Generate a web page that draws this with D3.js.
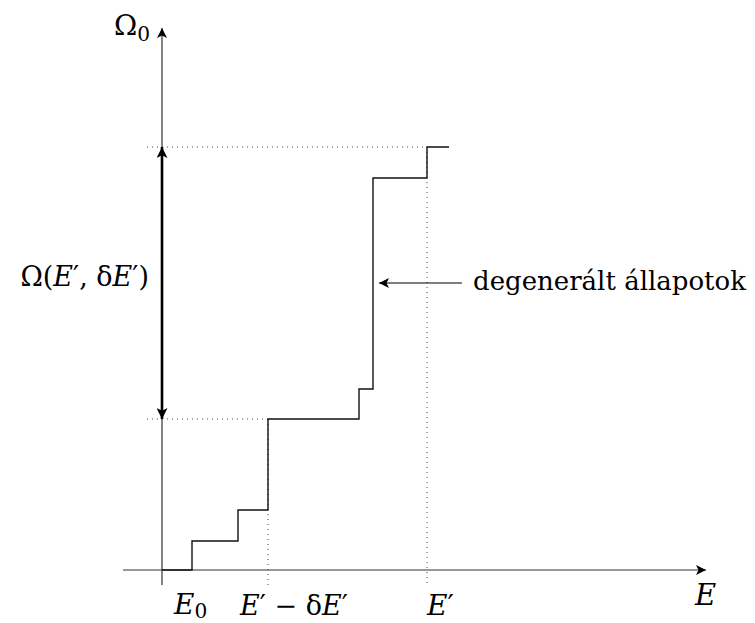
<!DOCTYPE html>
<html>
<head>
<meta charset="utf-8">
<script src="https://cdn.jsdelivr.net/npm/d3@7"></script>
<style>
  body { margin: 0; background: #fff; }
  text { font-family: "DejaVu Serif", serif; fill: #000; }
</style>
</head>
<body>
<svg></svg>
<script>
let width = 755, height = 623;
let svg = d3.select("svg")
    .attr("width", width)
    .attr("height", height);

// step levels: energy where each step starts, and Omega_0 after that step
var energies = [0, 3.0, 7.6, 10.6, 19.7, 21.1, 26.5];
var omegas   = [0, 2.9, 6.0, 15.1, 18.1, 39.2, 42.3];
var stepEnd = 28.7;

// marked points
var eLow = 10.6, eHigh = 26.5;        // E' - dE', E'
var omLow = 15.1, omHigh = 42.3;      // Omega at those energies
var degenE = 19.7, degenOm = 28.7;    // arrow to degenerate states

var x = d3.scaleLinear().domain([0, 10]).range([162, 262]);
var y = d3.scaleLinear().domain([0, 10]).range([570, 470]);

var defs = svg.append("defs");
function marker(id, w, h) {
  defs.append("marker")
    .attr("id", id)
    .attr("viewBox", "0 0 10 10")
    .attr("refX", 10).attr("refY", 5)
    .attr("markerWidth", w).attr("markerHeight", h)
    .attr("markerUnits", "userSpaceOnUse")
    .attr("orient", "auto-start-reverse")
    .append("path")
      .attr("d", "M0,0 L10,5 L0,10 L2.5,5 Z")
      .attr("fill", "#000");
}
marker("arr", 11, 10);
marker("arrBig", 12, 11);

// dotted guides
var dot = svg.append("g")
    .attr("stroke", "#444")
    .attr("stroke-width", 1)
    .attr("stroke-dasharray", "1 4");
dot.append("line")
    .attr("x1", x(-1.5)).attr("x2", x(eHigh))
    .attr("y1", y(omHigh)).attr("y2", y(omHigh));
dot.append("line")
    .attr("x1", x(-1.5)).attr("x2", x(eLow))
    .attr("y1", y(omLow)).attr("y2", y(omLow));
dot.append("line")
    .attr("x1", x(eLow)).attr("x2", x(eLow))
    .attr("y1", y(omLow)).attr("y2", y(-1.5));
dot.append("line")
    .attr("x1", x(eHigh)).attr("x2", x(eHigh))
    .attr("y1", y(omHigh)).attr("y2", y(-1.5));

// axes
svg.append("line")
    .attr("x1", x(-3.9)).attr("x2", x(54.4))
    .attr("y1", y(0)).attr("y2", y(0))
    .attr("stroke", "#333").attr("stroke-width", 1.2)
    .attr("marker-end", "url(#arr)");
svg.append("line")
    .attr("x1", x(0)).attr("x2", x(0))
    .attr("y1", y(-1.5)).attr("y2", y(54.2))
    .attr("stroke", "#333").attr("stroke-width", 1.2)
    .attr("marker-end", "url(#arr)");

// staircase
var pts = energies.map((e, i) => [e, omegas[i]]);
pts.push([stepEnd, omegas[omegas.length - 1]]);
var line = d3.line()
    .x(d => x(d[0]))
    .y(d => y(d[1]))
    .curve(d3.curveStepAfter);
svg.append("path")
    .attr("d", line(pts))
    .attr("fill", "none")
    .attr("stroke", "#111")
    .attr("stroke-width", 1.4);

// double arrow Omega(E', dE')
svg.append("line")
    .attr("x1", x(0)).attr("x2", x(0))
    .attr("y1", y(omLow)).attr("y2", y(omHigh))
    .attr("stroke", "#000").attr("stroke-width", 2.6)
    .attr("marker-start", "url(#arrBig)")
    .attr("marker-end", "url(#arrBig)");

// arrow to degenerate states
svg.append("line")
    .attr("x1", x(degenE + 10.3)).attr("x2", x(degenE + 2.0))
    .attr("y1", y(degenOm)).attr("y2", y(degenOm))
    .attr("stroke", "#000").attr("stroke-width", 1.2)
    .attr("marker-end", "url(#arr)");

// labels
function label(tx, ty, anchor, fs, parts) {
  var t = svg.append("text")
      .attr("x", tx).attr("y", ty)
      .attr("text-anchor", anchor)
      .style("font-size", fs + "px");
  parts.forEach(p => {
    var s = t.append("tspan").text(p.t);
    if (p.i) s.style("font-style", "italic");
    if (p.sub) s.attr("dy", p.sub).style("font-size", (fs * 0.72) + "px");
  });
  return t;
}

label(x(0) - 12, 35, "end", 28, [{t: "Ω"}, {t: "0", sub: 6}]);
label(x(53.3), 605, "start", 29, [{t: "E", i: true}]);
label(x(0) + 12, 614, "start", 28, [{t: "E", i: true}, {t: "0", sub: 4}]);
label(x(eLow) + 26, 615, "middle", 27, [{t: "E", i: true}, {t: "′ − δ"}, {t: "E", i: true}, {t: "′"}]);
label(x(eHigh), 615, "start", 28, [{t: "E", i: true}, {t: "′"}]);
label(x(-1.3), y((omLow + omHigh) / 2) + 3, "end", 27,
  [{t: "Ω("}, {t: "E", i: true}, {t: "′, δ"}, {t: "E", i: true}, {t: "′)"}]);
label(x(degenE + 11.4), y(degenOm) + 7, "start", 26, [{t: "degenerált állapotok"}]);
</script>
</body>
</html>
